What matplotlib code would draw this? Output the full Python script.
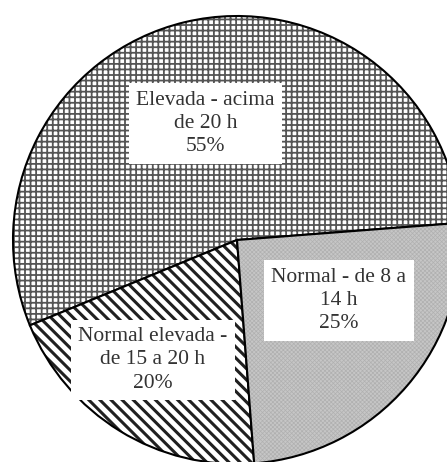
import matplotlib.pyplot as plt
import matplotlib as mpl

# dados
categorias = ['Elevada - acima\nde 20 h', 'Normal elevada -\nde 15 a 20 h', 'Normal - de 8 a\n14 h']
valores = [55, 20, 25]
hachuras = ['+++', '\\\\\\', 'xxxxxxxx']
cores = ['white', 'white', '#c6c6c6']
cores_hachura = ['#555555', '#202020', '#b0b0b0']
larg_hachura = [1.3, 2.2, 0.5]
pos_rotulos = [(-0.14, 0.52), (-0.375, -0.535), (0.455, -0.27)]

mpl.rcParams['font.family'] = ['Liberation Serif', 'DejaVu Serif']

fig = plt.figure(figsize=(4.47, 4.62), dpi=100)
ax = fig.add_axes([0, 0, 1, 1])

wedges, _ = ax.pie(valores, startangle=4.4, counterclock=True, radius=1.0,
                   colors=cores, wedgeprops=dict(edgecolor='black', linewidth=1.5))
for w, h, hc, lw in zip(wedges, hachuras, cores_hachura, larg_hachura):
    w.set_hatch(h)
    if hasattr(w, 'set_hatchcolor'):
        w.set_hatchcolor(hc)
    else:
        w._hatch_color = mpl.colors.to_rgba(hc)
    if hasattr(w, 'set_hatch_linewidth'):
        w.set_hatch_linewidth(lw)

for cat, v, (x, y) in zip(categorias, valores, pos_rotulos):
    ax.text(x, y, f'{cat}\n{v}%', ha='center', va='center', fontsize=15.5,
            color='#333333', linespacing=1.3,
            bbox=dict(facecolor='white', edgecolor='none', boxstyle='square,pad=0.35'))

ax.set_xlim(-237 / 224, (447 - 237) / 224)
ax.set_ylim(-(462 - 240) / 224, 240 / 224)
ax.set_aspect('auto')
ax.axis('off')

fig.savefig('out.png', dpi=100)
